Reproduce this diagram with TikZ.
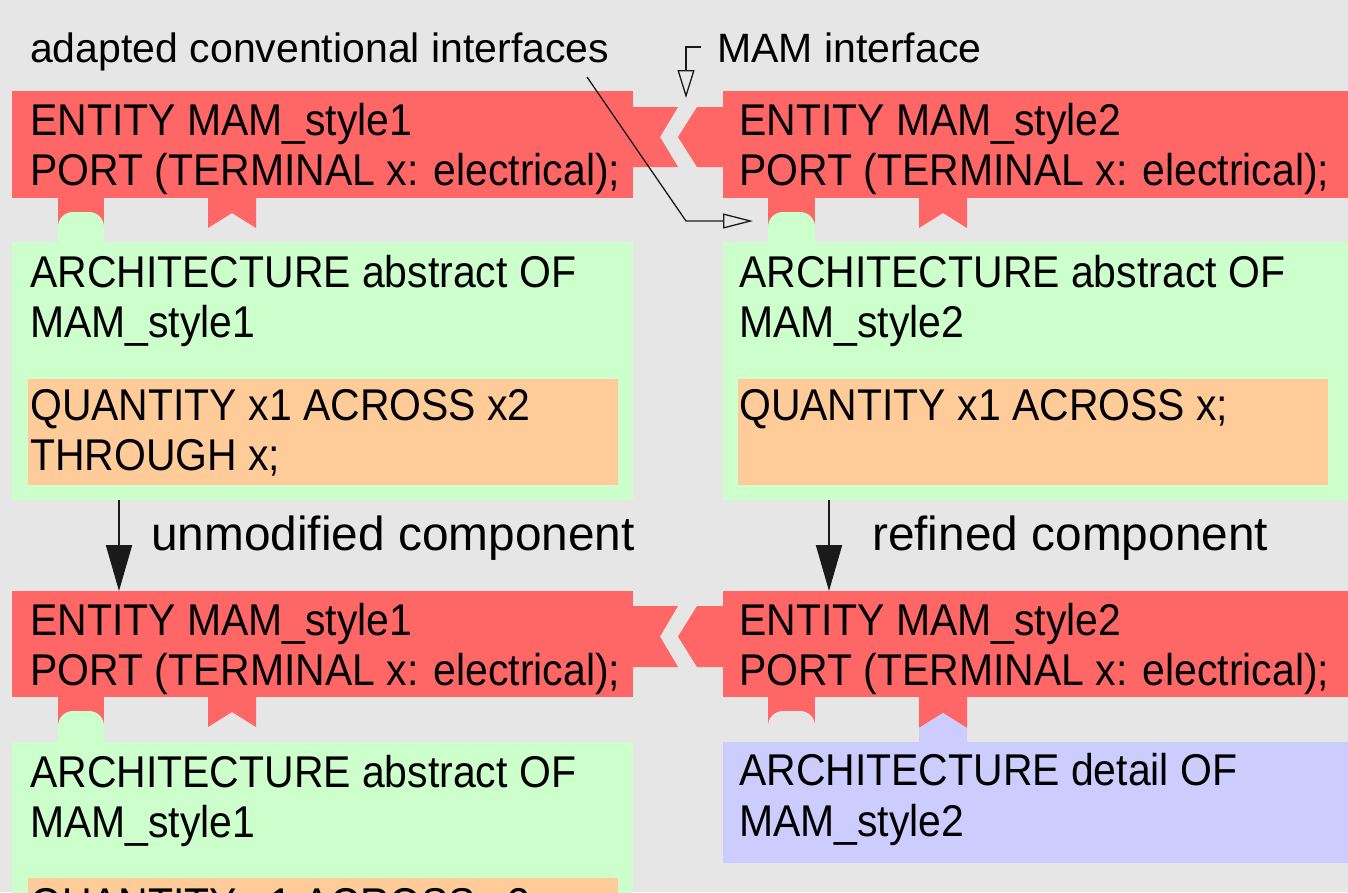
\documentclass[tikz,border=0pt]{standalone}
\usepackage{fontspec}
\setmainfont{Liberation Sans}
\newfontfamily\blockfont{Liberation Sans}[FakeStretch=0.92]
\usetikzlibrary{arrows.meta}
\definecolor{bg}{HTML}{E6E6E6}
\definecolor{ent}{HTML}{FF6666}
\definecolor{arch}{HTML}{CCFFCC}
\definecolor{quant}{HTML}{FFCC99}
\definecolor{detail}{HTML}{CCCCFF}
\definecolor{ink}{HTML}{1A1A1A}
\tikzset{
  blk/.style={inner sep=0pt, outer sep=0pt, anchor=north west, draw=none},
  btxt/.style={anchor=base west, inner sep=0pt, font=\blockfont\fontsize{44.5}{50}\selectfont},
  lbl/.style={anchor=base west, inner sep=0pt, font=\fontsize{41}{48}\selectfont},
  clbl/.style={anchor=base west, inner sep=0pt, font=\fontsize{47.8}{54}\selectfont},
  conn/.style={draw=ink, line width=1.3pt, -{Triangle[open, length=30pt, width=15pt]}},
  connb/.style={draw=ink, line width=1.3pt, -{Triangle[open, length=28pt, width=17pt]}},
  flow/.style={draw=ink, line width=2pt, -{Triangle[length=46pt, width=26pt]}},
  dome/.style={rounded corners=15pt},
}
\begin{document}
\begin{tikzpicture}[x=1pt, y=-1pt]
\useasboundingbox (0,0) rectangle (1348,892);
\clip (0,0) rectangle (1348,892);
\fill[bg] (0,0) rectangle (1348,892);

% ---------- row 1 ----------
\node[blk, fill=ent, minimum width=621pt, minimum height=107pt] (e1) at (12,91) {};
\node[blk, fill=ent, minimum width=625pt, minimum height=107pt] (e2) at (723,91) {};
\fill[ent] (632,107) -- (678,107) -- (660,137) -- (678,167) -- (632,167) -- cycle;
\fill[ent] (724,107) -- (697,107) -- (678,137) -- (697,167) -- (724,167) -- cycle;

\node[blk, fill=arch, minimum width=621pt, minimum height=258pt] (a1) at (12,242) {};
\node[blk, fill=arch, minimum width=625pt, minimum height=258pt] (a2) at (723,242) {};
\node[blk, fill=quant, minimum width=590pt, minimum height=106pt] (q1) at (28,379) {};
\node[blk, fill=quant, minimum width=590pt, minimum height=106pt] (q2) at (738,379) {};

% tabs row 1 left
\fill[ent] (58,197) rectangle (104,230);
\fill[arch, dome] (58,243) |- (104,212) -- (104,243);
\fill[ent] (208,197) -- (256,197) -- (256,228) -- (232,213) -- (208,228) -- cycle;
% tabs row 1 right
\fill[ent] (768,197) rectangle (815,230);
\fill[arch, dome] (768,243) |- (815,212) -- (815,243);
\fill[ent] (919,197) -- (967,197) -- (967,228) -- (943,213) -- (919,228) -- cycle;

\node[btxt] (t1a) at (30,135) {ENTITY MAM\_style1};
\node[btxt] (t1b) at (30,185) {PORT (TERMINAL x: electrical);};
\node[btxt] (t2a) at (739,135) {ENTITY MAM\_style2};
\node[btxt] (t2b) at (739,185) {PORT (TERMINAL x: electrical);};
\node[btxt] (t3a) at (30,287) {ARCHITECTURE abstract OF};
\node[btxt] (t3b) at (30,337) {MAM\_style1};
\node[btxt] (t4a) at (739,287) {ARCHITECTURE abstract OF};
\node[btxt] (t4b) at (739,337) {MAM\_style2};
\node[btxt] (t5a) at (30,420) {QUANTITY x1 ACROSS x2};
\node[btxt] (t5b) at (30,470) {THROUGH x;};
\node[btxt] (t6a) at (739,420) {QUANTITY x1 ACROSS x;};

% ---------- row 2 ----------
\node[blk, fill=ent, minimum width=621pt, minimum height=106pt] (e3) at (12,591) {};
\node[blk, fill=ent, minimum width=625pt, minimum height=106pt] (e4) at (723,591) {};
\fill[ent] (632,606) -- (678,606) -- (660,636.5) -- (678,667) -- (632,667) -- cycle;
\fill[ent] (724,606) -- (697,606) -- (678,636.5) -- (697,667) -- (724,667) -- cycle;

\node[blk, fill=arch, minimum width=621pt, minimum height=200pt] (a3) at (12,742) {};
\node[blk, fill=quant, minimum width=590pt, minimum height=100pt] (q3) at (28,878) {};
\node[blk, fill=detail, minimum width=625pt, minimum height=121pt] (d4) at (723,742) {};

% tabs row 2 left
\fill[ent] (58,696) rectangle (104,729);
\fill[arch, dome] (58,743) |- (104,711) -- (104,743);
\fill[ent] (208,696) -- (256,696) -- (256,727) -- (232,712) -- (208,727) -- cycle;
% tabs row 2 right
\fill[ent] (768,696) rectangle (815,725);
\fill[bg, dome] (768,741) |- (815,711) -- (815,741);
\fill[ent] (919,696) -- (967,696) -- (967,728) -- (943,713) -- (919,728) -- cycle;
\fill[detail] (919,743) -- (919,728) -- (943,713) -- (967,728) -- (967,743) -- cycle;

\node[btxt] (t7a) at (30,635) {ENTITY MAM\_style1};
\node[btxt] (t7b) at (30,685) {PORT (TERMINAL x: electrical);};
\node[btxt] (t8a) at (739,635) {ENTITY MAM\_style2};
\node[btxt] (t8b) at (739,685) {PORT (TERMINAL x: electrical);};
\node[btxt] (t9a) at (30,787) {ARCHITECTURE abstract OF};
\node[btxt] (t9b) at (30,837) {MAM\_style1};
\node[btxt] (t10a) at (739,785) {ARCHITECTURE detail OF};
\node[btxt] (t10b) at (739,836) {MAM\_style2};
\node[btxt] (t11a) at (30,919) {QUANTITY x1 ACROSS x2};

% ---------- labels and connectors ----------
\node[lbl] (adapt) at (30,62) {adapted conventional interfaces};
\node[lbl] (mam) at (717,62) {MAM interface};
\node[clbl] (unmod) at (151,550) {unmodified component};
\node[clbl] (refin) at (872,550) {refined component};

\coordinate (adS) at (587,77);
\coordinate (adE) at (753,221);
\draw[conn] (adS) -- (686,221) -- (adE);
\coordinate (mamS) at (701,47);
\coordinate (mamE) at (686,98);
\draw[connb] (mamS) -- (686,47) -- (mamE);

\draw[flow] ([xshift=107pt]a1.south west) -- ([xshift=107pt]e3.north west);
\draw[flow] ([xshift=106pt]a2.south west) -- ([xshift=106pt]e4.north west);
\end{tikzpicture}
\end{document}
